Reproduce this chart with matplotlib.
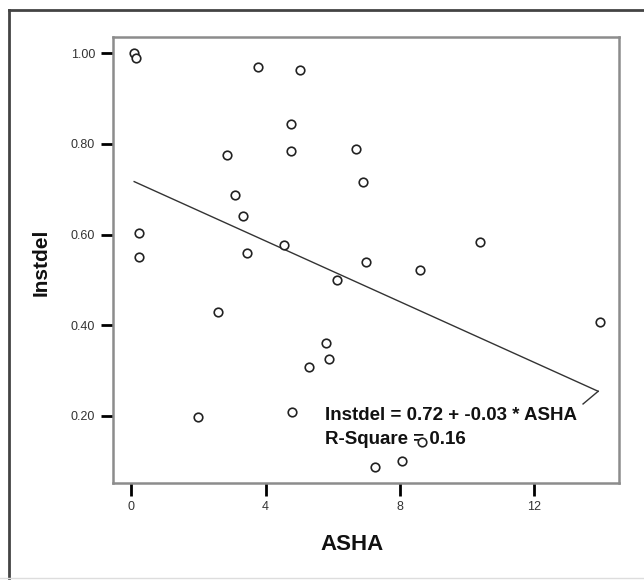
import matplotlib
matplotlib.use("Agg")
import matplotlib.pyplot as plt
from matplotlib.lines import Line2D
import numpy as np

plt.rcParams['font.family'] = ['Liberation Sans', 'DejaVu Sans']

# Data
asha = [0.09, 0.15, 3.78, 2.85, 3.10, 3.34, 0.24, 0.24, 3.46, 2.59, 2.00,
        5.03, 4.76, 4.76, 6.69, 6.89, 4.56, 6.99, 8.60, 6.12, 5.80, 5.89,
        5.28, 4.80, 7.26, 8.06, 8.65, 10.39, 13.96]
instdel = [1.00, 0.99, 0.97, 0.776, 0.687, 0.642, 0.604, 0.551, 0.56, 0.429, 0.198,
           0.963, 0.843, 0.785, 0.789, 0.717, 0.577, 0.539, 0.522, 0.50, 0.36, 0.326,
           0.309, 0.208, 0.088, 0.101, 0.143, 0.583, 0.407]
intercept = 0.72
slope = -0.0335
fit_x = [0.09, 13.9]
xticks = [0, 4, 8, 12]
yticks = [0.20, 0.40, 0.60, 0.80, 1.00]

W, H = 644, 580
fig = plt.figure(figsize=(W / 100, H / 100), dpi=100)
ax = fig.add_axes([113 / W, 1 - 483 / H, (619 - 113) / W, (483 - 37) / H])

ax.scatter(asha, instdel, s=38, facecolors='white', edgecolors='#222222',
           linewidths=1.2, zorder=3)
fx = np.array(fit_x)
fy = intercept + slope * fx
ax.plot(fx, fy, color='#333333', lw=1.0, zorder=2)
# small leader tick at end of fit line
ax.plot([fx[-1], fx[-1] - 0.45], [fy[-1], fy[-1] - 0.028], color='#333333', lw=1.0, zorder=2)

ax.set_xlim(-0.54, 14.52)
ax.set_ylim(0.052, 1.036)
ax.set_xticks(xticks)
ax.set_xticklabels([str(t) for t in xticks])
ax.set_yticks(yticks)
ax.set_yticklabels([f"{t:.2f}" for t in yticks])
ax.tick_params(axis='both', direction='out', length=9, width=2, color='black',
               labelsize=9, labelcolor='#333333', pad=4)
for s in ax.spines.values():
    s.set_color('#8c8c8c')
    s.set_linewidth(1.8)

ax.set_xlabel('ASHA', fontsize=16, fontweight='bold', color='#111111')
ax.xaxis.set_label_coords((352 - 113) / 506, -(534 - 483) / 446)
ax.set_ylabel('Instdel', fontsize=15, fontweight='bold', color='#111111')
ax.yaxis.set_label_coords(-(113 - 51) / 506, (483 - 262) / 446)

ax.text(5.77, 0.200, 'Instdel = 0.72 + -0.03 * ASHA', fontsize=13.5, fontweight='bold',
        ha='left', va='center', color='#111111', zorder=2)
ax.text(5.77, 0.149, 'R-Square = 0.16', fontsize=13.5, fontweight='bold',
        ha='left', va='center', color='#111111', zorder=2)

# outer frame
fig.add_artist(Line2D([9 / W, 1.0], [1 - 10 / H, 1 - 10 / H], transform=fig.transFigure,
                      color='#444444', lw=2))
fig.add_artist(Line2D([9 / W, 9 / W], [1 - 10 / H, 1 - 578 / H], transform=fig.transFigure,
                      color='#444444', lw=2))
fig.add_artist(Line2D([0, 1], [1 - 578 / H, 1 - 578 / H], transform=fig.transFigure,
                      color='#dddddd', lw=1))

fig.savefig('out.png', dpi=100)
